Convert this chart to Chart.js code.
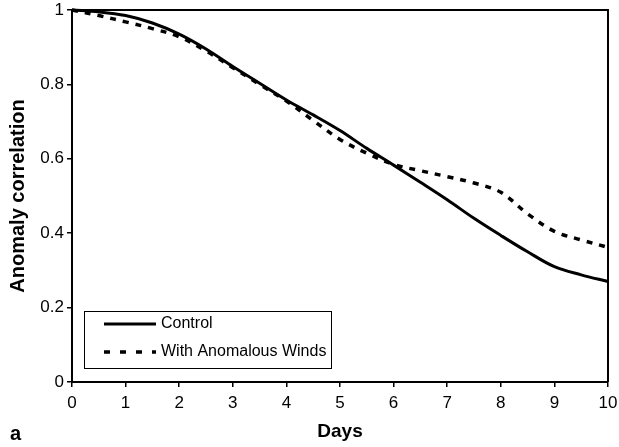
<!DOCTYPE html>
<html>
<head>
<meta charset="utf-8">
<script src="https://cdn.jsdelivr.net/npm/chart.js@4.4.0/dist/chart.umd.min.js"></script>
<style>
  html, body { margin: 0; padding: 0; background: #fff; }
  #wrap { width: 619px; height: 447px; position: relative; }
</style>
</head>
<body>
<div id="wrap"><canvas id="c" width="619" height="447"></canvas></div>
<script>
// ---- data ----
const days = [0, 0.5, 1, 1.5, 2, 2.5, 3, 3.5, 4, 4.5, 5, 5.5, 6, 6.5, 7, 7.5, 8, 8.5, 9, 9.5, 10];
const control = [1.0, 0.995, 0.985, 0.965, 0.935, 0.895, 0.848, 0.803, 0.758, 0.718, 0.676, 0.628, 0.583, 0.537, 0.49, 0.44, 0.394, 0.35, 0.31, 0.288, 0.27];
const anomalousWinds = [1.0, 0.985, 0.968, 0.95, 0.928, 0.89, 0.845, 0.8, 0.755, 0.703, 0.652, 0.615, 0.585, 0.568, 0.552, 0.535, 0.51, 0.452, 0.405, 0.382, 0.362];
const xTicks = [0, 1, 2, 3, 4, 5, 6, 7, 8, 9, 10];
const yTicks = ['0', '0.2', '0.4', '0.6', '0.8', '1'];
const seriesNames = ['Control', 'With Anomalous Winds'];

const FONT = "'Liberation Sans', Arial, Helvetica, sans-serif";

const toPts = (ys) => days.map((d, i) => ({ x: d, y: ys[i] }));

const framePlugin = {
  id: 'frame',
  afterDraw(chart) {
    const { ctx, chartArea: a } = chart;
    ctx.save();
    ctx.strokeStyle = '#000';
    ctx.lineWidth = 2;
    ctx.beginPath();
    ctx.moveTo(a.left, a.top);
    ctx.lineTo(a.right, a.top);
    ctx.lineTo(a.right, a.bottom);
    ctx.stroke();

    // legend box
    const ds = chart.data.datasets;
    ctx.lineWidth = 1;
    ctx.strokeRect(84.5, 311.5, 247, 57);
    const rows = [324, 352];
    ds.forEach((d, i) => {
      ctx.beginPath();
      ctx.lineWidth = d.borderWidth;
      ctx.setLineDash(i === 0 ? [] : [6, 10]);
      ctx.moveTo(104, rows[i]);
      ctx.lineTo(156, rows[i]);
      ctx.stroke();
      ctx.setLineDash([]);
      ctx.fillStyle = '#000';
      ctx.font = '16px ' + FONT;
      ctx.textBaseline = 'middle';
      ctx.textAlign = 'left';
      ctx.fillText(d.label, 161, rows[i]);
    });

    // panel letter
    ctx.font = 'bold 20px ' + FONT;
    ctx.textBaseline = 'alphabetic';
    ctx.fillText('a', 10, 440);
    ctx.restore();
  }
};

new Chart(document.getElementById('c'), {
  type: 'line',
  data: {
    datasets: [
      {
        label: seriesNames[0],
        data: toPts(control),
        borderColor: '#000',
        borderWidth: 3,
        pointRadius: 0,
        tension: 0.35,
        fill: false,
        clip: 6
      },
      {
        label: seriesNames[1],
        data: toPts(anomalousWinds),
        borderColor: '#000',
        borderWidth: 3.5,
        borderDash: [6, 7],
        pointRadius: 0,
        tension: 0.35,
        fill: false,
        clip: 6
      }
    ]
  },
  options: {
    responsive: false,
    animation: false,
    events: [],
    layout: { padding: { top: 10, right: 11, left: 0, bottom: 0 } },
    plugins: { legend: { display: false }, tooltip: { enabled: false } },
    scales: {
      x: {
        type: 'linear',
        min: 0, max: 10,
        afterFit(s) { s.height = 65; s.paddingLeft = 0; s.paddingRight = 0; },
        afterBuildTicks(s) { s.ticks = xTicks.map(v => ({ value: v })); },
        ticks: {
          color: '#000',
          font: { family: FONT, size: 17 },
          padding: 6,
          maxRotation: 0,
          autoSkip: false,
          callback: (v) => String(v)
        },
        grid: { display: true, drawOnChartArea: false, drawTicks: true, tickLength: 5, color: '#000', lineWidth: 1.5 },
        border: { display: true, color: '#000', width: 2 },
        title: {
          display: true,
          text: 'Days',
          color: '#000',
          font: { family: FONT, size: 19, weight: 'bold', lineHeight: 1.2 },
          padding: { top: 0, bottom: 4 }
        }
      },
      y: {
        min: 0, max: 1,
        afterFit(s) { s.width = 72; s.paddingTop = 0; s.paddingBottom = 0; },
        afterBuildTicks(s) { s.ticks = yTicks.map(t => ({ value: parseFloat(t) })); },
        ticks: {
          color: '#000',
          font: { family: FONT, size: 17 },
          padding: 3,
          autoSkip: false,
          callback: (v, i) => yTicks[i]
        },
        grid: { display: true, drawOnChartArea: false, drawTicks: true, tickLength: 5, color: '#000', lineWidth: 1.5 },
        border: { display: true, color: '#000', width: 2 },
        title: {
          display: true,
          text: 'Anomaly correlation',
          color: '#000',
          font: { family: FONT, size: 20, weight: 'bold', lineHeight: 1.2 },
          padding: { top: 6, bottom: 0 }
        }
      }
    }
  },
  plugins: [framePlugin]
});
</script>
</body>
</html>
